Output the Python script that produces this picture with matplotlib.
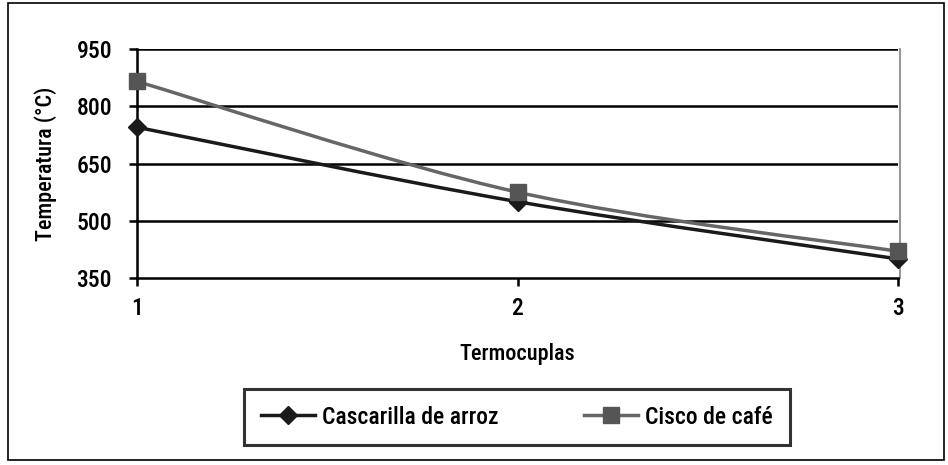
import numpy as np
import matplotlib.pyplot as plt
from matplotlib.path import Path
from matplotlib.patches import PathPatch, Rectangle
from matplotlib.lines import Line2D
from matplotlib import font_manager

names = set(f.name for f in font_manager.fontManager.ttflist)
wanted = ["Liberation Sans Narrow", "DejaVu Sans Condensed", "Roboto Condensed",
          "Open Sans Condensed", "Noto Sans Condensed"]
fams = [n for n in wanted if n in names] + ["DejaVu Sans"]
plt.rcParams["font.family"] = fams
narrow = fams[0] != "DejaVu Sans"

termocuplas = [1, 2, 3]
cascarilla = [745, 550, 400]
cisco = [865, 575, 420]
yticks = [350, 500, 650, 800, 950]


def smooth_path(x, y):
    # Catmull-Rom style bezier through the points (like Excel smoothed line)
    x = np.asarray(x, float)
    y = np.asarray(y, float)
    verts = [(x[0], y[0])]
    codes = [Path.MOVETO]
    n = len(x)
    for i in range(n - 1):
        p0 = (x[max(i - 1, 0)], y[max(i - 1, 0)])
        p1 = (x[i], y[i])
        p2 = (x[i + 1], y[i + 1])
        p3 = (x[min(i + 2, n - 1)], y[min(i + 2, n - 1)])
        c1 = (p1[0] + (p2[0] - p0[0]) / 6, p1[1] + (p2[1] - p0[1]) / 6)
        c2 = (p2[0] - (p3[0] - p1[0]) / 6, p2[1] - (p3[1] - p1[1]) / 6)
        verts += [c1, c2, p2]
        codes += [Path.CURVE4] * 3
    return Path(verts, codes)


fs = 17 if narrow else 13
wt = "medium" if narrow else "normal"

fig = plt.figure(figsize=(9.48, 4.65), dpi=100)
fig.patches.append(Rectangle((8 / 948, 5 / 465), 936 / 948, 457 / 465,
                             transform=fig.transFigure, fill=False,
                             edgecolor="black", linewidth=1.2))

ax = fig.add_axes([137 / 948, 1 - 278 / 465, (898 - 137) / 948, (278 - 49) / 465])
ax.set_xlim(1, 3)
ax.set_ylim(350, 950)

for v in yticks[1:]:
    ax.axhline(v, color="black", linewidth=1.8, zorder=1)

ax.add_patch(PathPatch(smooth_path(termocuplas, cascarilla), fill=False,
                       edgecolor="#1a1a1a", linewidth=2.5, zorder=3, clip_on=False))
ax.add_patch(PathPatch(smooth_path(termocuplas, cisco), fill=False,
                       edgecolor="#666666", linewidth=2.5, zorder=4, clip_on=False))
ax.plot(termocuplas, cascarilla, linestyle="none", marker="D", markersize=9,
        color="#1a1a1a", zorder=5, clip_on=False)
ax.plot(termocuplas, cisco, linestyle="none", marker="s", markersize=11,
        color="#555555", zorder=6, clip_on=False)

for s in ["top", "right"]:
    ax.spines[s].set_visible(False)
ax.spines["left"].set_linewidth(1.8)
ax.spines["bottom"].set_linewidth(1.8)
ax.axvline(3.005, color="#999999", linewidth=1.5, zorder=0, clip_on=False)

ax.set_yticks(yticks)
ax.set_xticks(termocuplas)
ax.tick_params(axis="both", direction="out", length=6, width=1.8, labelsize=fs)
ax.tick_params(axis="y", pad=12)
ax.tick_params(axis="x", pad=8)
for lab in ax.get_xticklabels() + ax.get_yticklabels():
    lab.set_fontweight(wt)
ax.set_ylabel("Temperatura (°C)", fontsize=fs - 1, fontweight=wt, labelpad=14)
ax.set_xlabel("Termocuplas", fontsize=fs - 1, fontweight=wt, labelpad=16)

handles = [
    Line2D([], [], color="#1a1a1a", linewidth=2.5, marker="D", markersize=9),
    Line2D([], [], color="#666666", linewidth=2.5, marker="s", markersize=11,
           markerfacecolor="#555555", markeredgecolor="#555555"),
]
leg = fig.legend(handles, ["Cascarilla de arroz", "Cisco de café"], ncol=2,
                 loc="center", bbox_to_anchor=(517 / 948, 1 - 417 / 465),
                 prop={"size": fs, "weight": wt}, frameon=True,
                 fancybox=False, handlelength=2.3, handletextpad=0.3,
                 columnspacing=3.6, borderpad=0.7)
leg.get_frame().set_edgecolor("black")
leg.get_frame().set_linewidth(2.2)

fig.savefig("out.png", dpi=100)
